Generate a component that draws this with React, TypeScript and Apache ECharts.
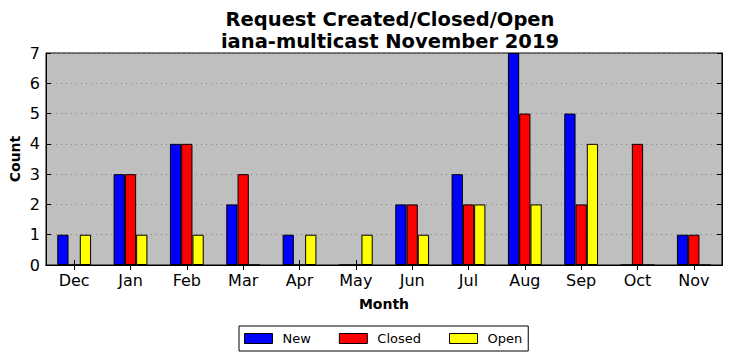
import React, { useEffect, useRef } from "react";
import * as echarts from "echarts";

const months = ["Dec", "Jan", "Feb", "Mar", "Apr", "May", "Jun", "Jul", "Aug", "Sep", "Oct", "Nov"];
const newCounts = [1, 3, 4, 2, 1, 0, 2, 3, 7, 5, 0, 1];
const closedCounts = [0, 3, 4, 3, 0, 0, 2, 2, 5, 2, 4, 1];
const openCounts = [1, 1, 1, 0, 1, 1, 1, 2, 2, 4, 0, 0];
const titleLines = ["Request Created/Closed/Open", "iana-multicast November 2019"];

const FONT = "DejaVu Sans";

export default function App() {
  const ref = useRef<HTMLDivElement>(null);
  useEffect(() => {
    if (!ref.current) return;
    const chart = echarts.init(ref.current, null, { renderer: "svg" });
    const barStyle = (color: string) => ({
      color,
      borderColor: "#000",
      borderWidth: 1,
    });
    const mk = (name: string, data: number[], color: string) => ({
      name,
      type: "bar",
      data,
      barWidth: "20%",
      barGap: "0%",
      itemStyle: barStyle(color),
      emphasis: { disabled: true },
    });
    chart.setOption({
      animation: false,
      textStyle: { fontFamily: FONT },
      title: {
        text: titleLines.join("\n"),
        left: 385,
        textAlign: "center",
        top: 4,
        textStyle: { fontFamily: FONT, fontWeight: "bold", fontSize: 19.5, lineHeight: 21.5, color: "#000" },
      },
      grid: {
        left: 46,
        right: 10,
        top: 53,
        bottom: 96,
        show: true,
        backgroundColor: "#bfbfbf",
        borderColor: "#000",
        borderWidth: 1,
        outerBoundsMode: "none",
        containLabel: false,
      },
      legend: {
        top: 326,
        left: 239,
        data: ["New", "Closed", "Open"],
        icon: "rect",
        itemWidth: 28,
        itemHeight: 10,
        itemGap: 28,
        itemStyle: { borderColor: "#000", borderWidth: 1 },
        borderColor: "#000",
        borderWidth: 1,
        padding: [6, 6, 6, 5],
        textStyle: { fontFamily: FONT, fontSize: 13, color: "#000", padding: [0, 0, 0, 5] },
        selectedMode: false,
      },
      xAxis: [
        {
          type: "category",
          data: months,
          position: "bottom",
          name: "Month",
          nameLocation: "middle",
          nameGap: 32,
          nameMoveOverlap: false,
          nameTextStyle: { fontFamily: FONT, fontWeight: "bold", fontSize: 14, color: "#000" },
          axisLine: { show: true, lineStyle: { color: "#000" } },
          axisTick: { show: true, inside: true, alignWithLabel: true, length: 5, lineStyle: { color: "#000" } },
          axisLabel: { fontFamily: FONT, fontSize: 16, color: "#000", margin: 7 },
          splitLine: { show: false },
        },
        {
          type: "category",
          data: months,
          position: "top",
          axisLine: { show: true, lineStyle: { color: "#000" } },
          axisTick: { show: true, inside: true, alignWithLabel: true, length: 5, lineStyle: { color: "#000" } },
          axisLabel: { show: false },
          splitLine: { show: false },
        },
      ],
      yAxis: [
        {
          type: "value",
          min: 0,
          max: 7,
          interval: 1,
          name: "Count",
          nameLocation: "middle",
          nameGap: 24,
          nameMoveOverlap: false,
          nameRotate: 90,
          nameTextStyle: { fontFamily: FONT, fontWeight: "bold", fontSize: 14, color: "#000" },
          axisLine: { show: true, lineStyle: { color: "#000" } },
          axisTick: { show: true, inside: true, length: 5, lineStyle: { color: "#000" } },
          axisLabel: { fontFamily: FONT, fontSize: 16, color: "#000", margin: 6 },
          splitLine: { show: true, lineStyle: { color: "#808080", type: [1, 4], width: 1 } },
        },
        {
          type: "value",
          min: 0,
          max: 7,
          interval: 1,
          position: "right",
          axisLine: { show: true, lineStyle: { color: "#000" } },
          axisTick: { show: true, inside: true, length: 5, lineStyle: { color: "#000" } },
          axisLabel: { show: false },
          splitLine: { show: false },
        },
      ],
      series: [
        mk("New", newCounts, "#0000ff"),
        mk("Closed", closedCounts, "#ff0000"),
        mk("Open", openCounts, "#ffff00"),
      ],
    });
    return () => chart.dispose();
  }, []);
  return <div ref={ref} style={{ width: 732, height: 361, position: "absolute", left: 0, top: 0 }} />;
}
